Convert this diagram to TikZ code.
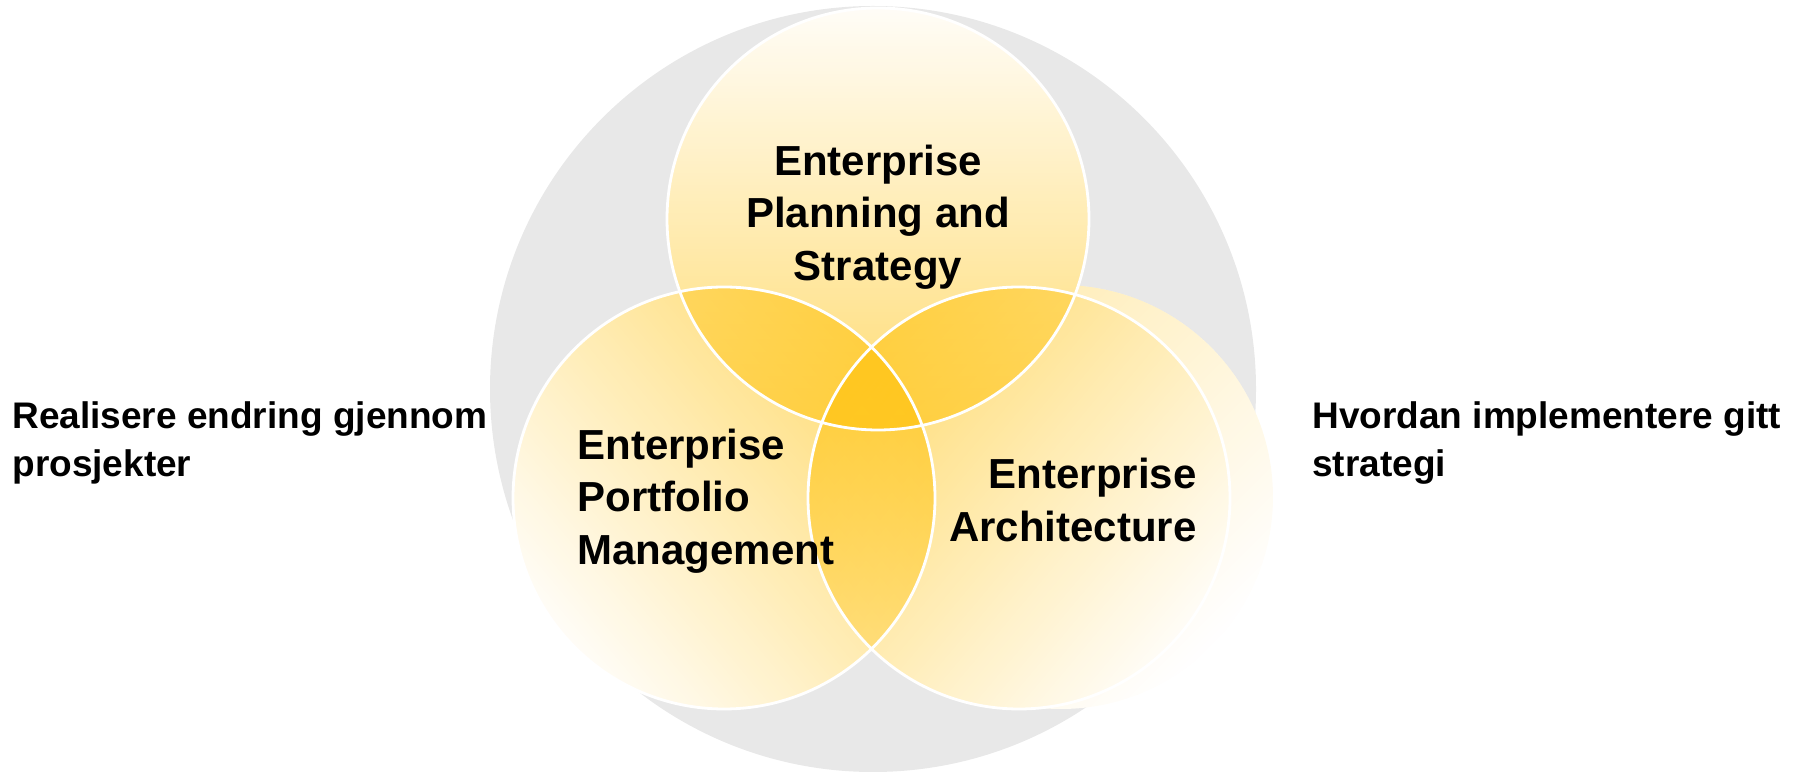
\documentclass[tikz,border=0pt]{standalone}
\usepackage{fontspec}
\setmainfont{Liberation Sans}
\usetikzlibrary{fadings}

\definecolor{venngold}{RGB}{255,194,10}
\definecolor{venngray}{RGB}{232,232,232}

\tikzfading[name=vennfade, top color=transparent!97, bottom color=transparent!42]
\tikzfading[name=glowfade, top color=transparent!68, bottom color=transparent!100]

\begin{document}
\begin{tikzpicture}
  [
    x=0.5pt, y=-0.5pt,
    venn circle/.style={fill=venngold, path fading=vennfade},
    venn edge/.style={draw=white, line width=1.4pt},
    venn text/.style={font=\fontsize{21}{26.3}\selectfont\bfseries, inner sep=0},
    side text/.style={font=\fontsize{18.5}{24}\selectfont\bfseries, inner sep=0, align=left, anchor=west},
  ]
  \useasboundingbox (0,0) rectangle (1798,779);

  \coordinate (all) at (873,389);
  \coordinate (plan) at (878,219);
  \coordinate (port) at (724,498);
  \coordinate (arch) at (1019,498);
  \coordinate (glow) at (1061,497);

  % background disc
  \fill[venngray] (all) circle (383);

  % glow behind the right circle
  \fill[white] (glow) circle (212);
  \fill[venngold, path fading=glowfade, fading angle=45] (glow) circle (212);

  % white base under the circles
  \fill[white] (plan) circle (211) (port) circle (211) (arch) circle (211);

  \fill[venn circle] (plan) circle (211);
  \fill[venn circle, fading angle=130] (port) circle (211);
  \fill[venn circle, fading angle=-130] (arch) circle (211);

  \path[venn edge] (plan) circle (211) (port) circle (211) (arch) circle (211);

  \node (plantext)[venn text, align=center] at (878,217) {Enterprise\\Planning and\\Strategy};
  \node (porttext)[venn text, align=left, anchor=west] at (577,501) {Enterprise\\Portfolio\\Management};
  \node (archtext)[venn text, align=right, anchor=east] at (1197,500) {Enterprise\\Architecture};

  \node (lefttext)[side text] at (12,443) {Realisere endring gjennom\\prosjekter};
  \node (righttext)[side text] at (1312,443) {Hvordan implementere gitt\\strategi};

\end{tikzpicture}
\end{document}
